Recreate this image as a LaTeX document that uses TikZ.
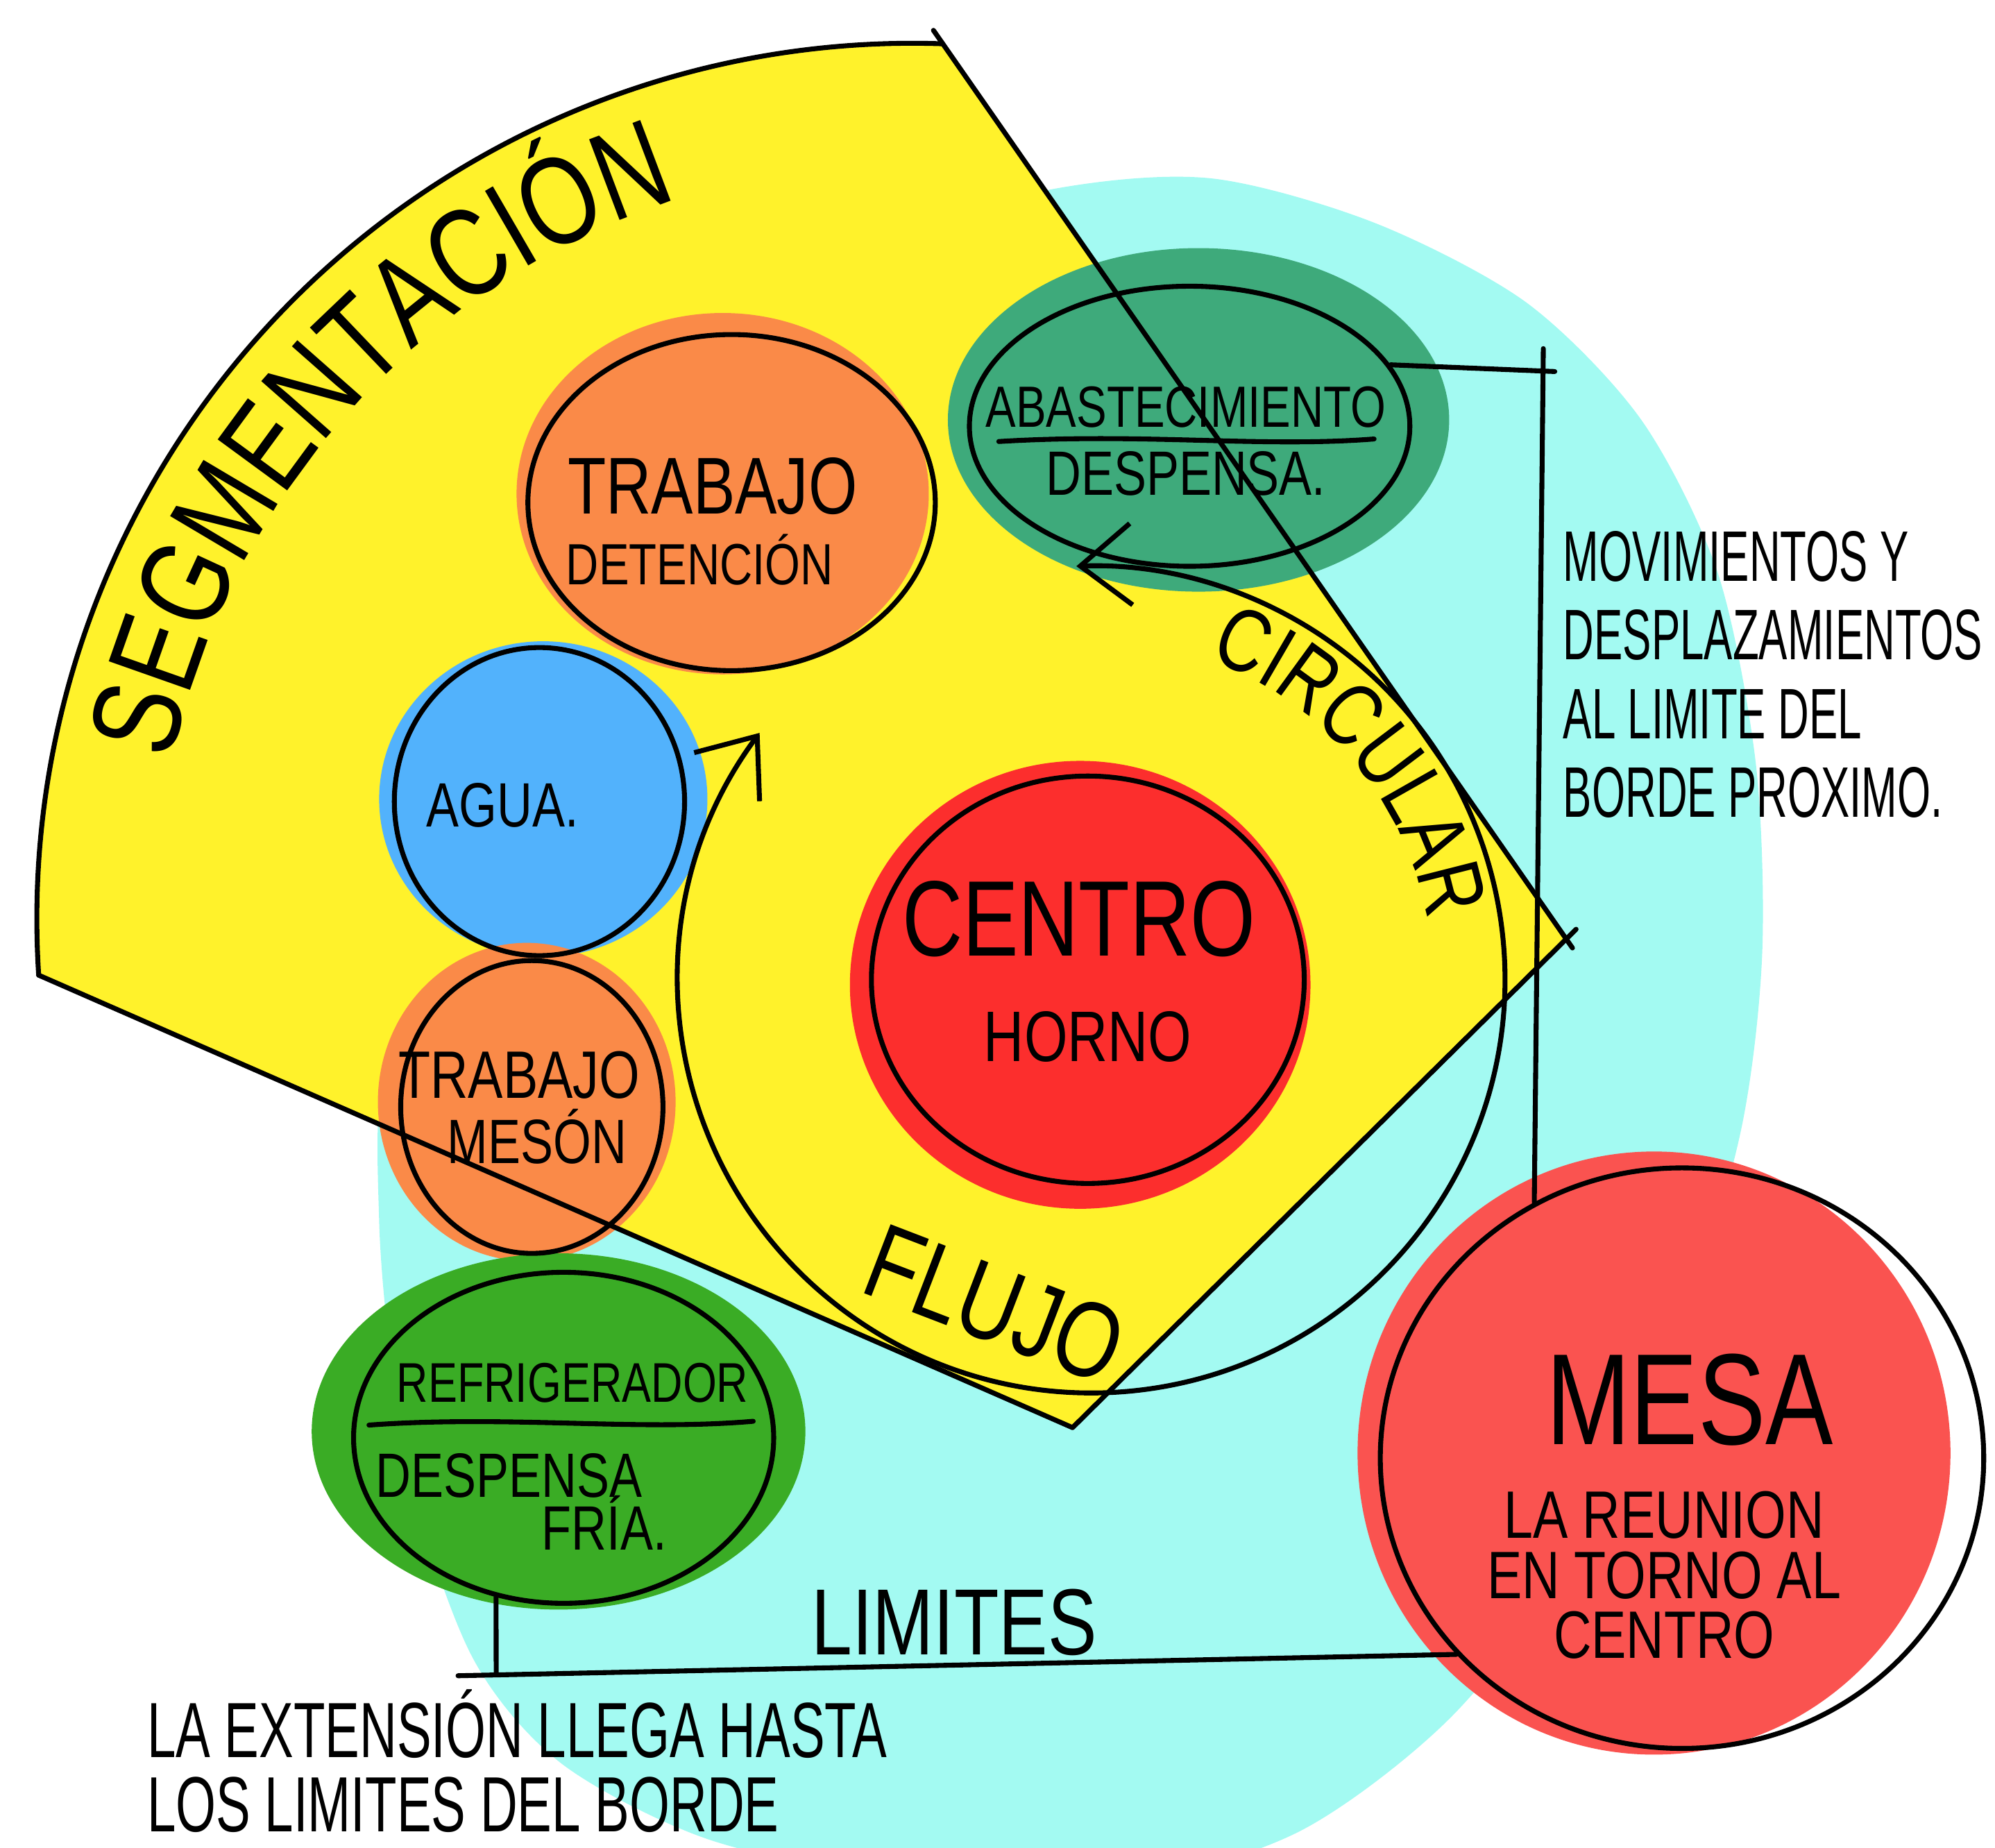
\documentclass[tikz,border=0pt]{standalone}
\usepackage{fontspec}
\usepackage{tikz}
\usetikzlibrary{shapes,arrows.meta,positioning,calc,
                decorations.text,shapes.geometric}
\newfontfamily\hand[FakeStretch=0.78]{Liberation Sans}
\newfontfamily\handn[FakeStretch=0.66]{Liberation Sans}
\newfontfamily\handx[FakeStretch=0.6]{Liberation Sans}
\newcommand\handfs[2]{\hand\fontsize{#1}{#2}\selectfont}
\newcommand\handnfs[2]{\handn\fontsize{#1}{#2}\selectfont}
\newcommand\handxfs[2]{\handx\fontsize{#1}{#2}\selectfont}
\definecolor{mycyan}{RGB}{163,250,242}
\definecolor{myyellow}{RGB}{255,242,43}
\definecolor{myorange}{RGB}{250,138,72}
\definecolor{myteal}{RGB}{62,170,123}
\definecolor{myblue}{RGB}{82,178,252}
\definecolor{mygreen}{RGB}{58,172,37}
\definecolor{myred}{RGB}{252,46,45}
\definecolor{mysalmon}{RGB}{250,83,80}

\begin{document}
\begin{tikzpicture}[x=0.01cm, y=0.01cm,
  ink/.style={line width=1.1pt, line cap=round, line join=round},
  rim/.style={ellipse, draw, line width=1.1pt, inner sep=0pt},
  lbl/.style={inner sep=0pt, align=center},
  flowtip/.tip={Straight Barb[length=4mm, width=6.4mm]}]
  \useasboundingbox (0,0) rectangle (1568,-1452);
  \begin{scope}
    \clip (0,0) rectangle (1568,-1452);
    \fill[mycyan] plot[smooth cycle] coordinates {
      (820,-150) (950,-140) (1080,-175) (1200,-238) (1290,-330)
      (1350,-450) (1380,-600) (1385,-750) (1368,-890) (1320,-1050)
      (1240,-1220) (1140,-1350) (1020,-1440) (880,-1480) (700,-1475)
      (555,-1445) (440,-1385) (370,-1300) (320,-1150) (298,-960)
      (310,-780) (420,-420) (640,-200)};
  \end{scope}

  \coordinate (segO) at (717,-722);
  \coordinate (segA) at (30.4,-766.4);
  \coordinate (segB) at (741,-34.4);
  \coordinate (segC) at (1231,-738);
  \coordinate (segD) at (843,-1122);
  \fill[myyellow] (segA) arc[start angle=183.7, end angle=88, radius=688]
    -- (segC) -- (segD) -- cycle;

  \fill[myorange] (568,-388) ellipse[x radius=162, y radius=142];
  \fill[myteal] (942,-330) ellipse[x radius=197, y radius=135];
  \fill[myblue] (427,-628) ellipse[x radius=129, y radius=124];
  \fill[myorange] (414,-866) ellipse[x radius=117, y radius=125];
  \fill[mygreen] (439,-1125) ellipse[x radius=194, y radius=140];
  \fill[myred] (849,-774) ellipse[x radius=181, y radius=176];
  \fill[mysalmon] (1300,-1142) ellipse[x radius=233, y radius=237];

  \node[rim, minimum width=3.2cm, minimum height=2.64cm] (trabajo) at (575,-395) {};
  \node[rim, minimum width=3.46cm, minimum height=2.2cm] (abast) at (935,-335) {};
  \node[rim, minimum width=2.28cm, minimum height=2.42cm] (agua) at (424,-630) {};
  \node[rim, minimum width=2.06cm, minimum height=2.3cm] (meson) at (418,-870) {};
  \node[rim, minimum width=3.3cm, minimum height=2.6cm] (refri) at (443,-1130) {};
  \node[rim, minimum width=3.4cm, minimum height=3.2cm] (centro) at (855,-770) {};
  \node[rim, minimum width=4.74cm, minimum height=4.56cm] (mesa) at (1322,-1146) {};

  \node[lbl, font=\handfs{18}{20}] (trabajoA) at (560,-382) {TRABAJO};
  \node[lbl, font=\handfs{13}{15}] (trabajoB) at (550,-440) {DETENCIÓN};
  \node[lbl, font=\handfs{13}{15}] (abastA) at (932,-320) {ABASTECIMIENTO};
  \node[lbl, font=\handfs{14}{16}] (abastB) at (932,-372) {DESPENSA.};
  \node[lbl, font=\handfs{14}{16}] (aguaA) at (395,-633) {AGUA.};
  \node[lbl, font=\handfs{15}{17}] (mesonA) at (408,-845) {TRABAJO};
  \node[lbl, font=\handfs{14}{16}] (mesonB) at (422,-893) {MESÓN};
  \node[lbl, font=\handfs{12.5}{15}] (refriA) at (450,-1087) {REFRIGERADOR};
  \node[lbl, font=\handfs{14}{16}] (refriB) at (400,-1160) {DESPENSA};
  \node[lbl, font=\handfs{14}{16}] (refriC) at (475,-1197) {FRÍA.};
  \node[lbl, font=\handfs{24}{26}] (centroA) at (848,-722) {CENTRO};
  \node[lbl, font=\handfs{16}{18}] (centroB) at (855,-815) {HORNO};
  \node[lbl, font=\handfs{29}{31}] (mesaA) at (1328,-1100) {MESA};
  \node[lbl, font=\handfs{15}{13.4}] (mesaB) at (1308,-1238)
    {LA REUNION\\EN TORNO AL\\CENTRO};
  \node[lbl, font=\handfs{21}{23}] (limites) at (750,-1275) {LIMITES};
  \node[lbl, font=\handfs{24}{26}, rotate=-21] (flujo) at (782,-1025) {FLUJO};
  \node[lbl, align=left, anchor=west, font=\handxfs{16}{17.6}] (movim) at (1228,-530)
    {MOVIMIENTOS Y\\DESPLAZAMIENTOS\\AL LIMITE DEL\\BORDE PROXIMO.};
  \node[lbl, align=left, anchor=west, font=\handnfs{17.5}{16.5}] (extension) at (115,-1384)
    {LA EXTENSIÓN LLEGA HASTA\\LOS LIMITES DEL BORDE};

  \draw[ink] (segA) arc[start angle=183.7, end angle=88, radius=688];
  \draw[ink] ($(segC)!1.015!(segB)$) -- ($(segB)!1.01!(segC)$);
  \draw[ink] ($(segD)!1.02!(segC)$) -- (segD) -- (segA);

  \draw[ink, flowtip-flowtip] (597,-576) arc[start angle=143.4, end angle=452.1, radius=325];

  \coordinate (movN) at (1213,-274);
  \coordinate (movE) at (1222,-292);
  \coordinate (limW) at (360,-1317);
  \coordinate (limS) at (390,-1316);
  \draw[ink] (abast.17) -- (movE);
  \draw[ink] (movN) -- (mesa.120);
  \draw[ink] (refri.247) -- (limS);
  \draw[ink] (limW) -- (mesa.221);

  \draw[ink] (785,-347) .. controls (900,-340) and (990,-352) .. (1080,-345);
  \draw[ink] (290,-1120) .. controls (400,-1112) and (500,-1125) .. (592,-1117);

  \path[decorate, decoration={text along path, text align=center,
      text={|\handfs{28}{30}|SEGMENTACIÓN}}]
    ($(segO)+(193:595)$) arc[start angle=193, end angle=83, radius=595];
  \path[decorate, decoration={text along path, text align=center,
      text={|\handfs{20}{22}|CIRCULAR}}]
    ($(858,-770)+(80:268)$) arc[start angle=80, end angle=0, radius=268];
\end{tikzpicture}
\end{document}
